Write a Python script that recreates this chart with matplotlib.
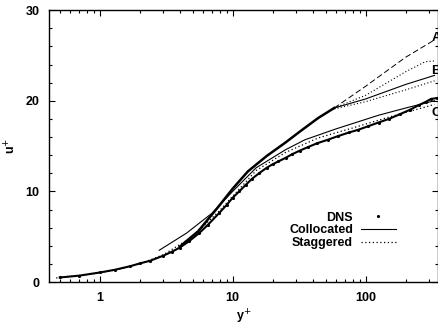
import numpy as np
import matplotlib.pyplot as plt
from matplotlib.ticker import MultipleLocator, NullFormatter

plt.rcParams['font.family'] = ['Liberation Sans', 'DejaVu Sans']

# DNS profile (lower group, drawn as dense dots)
dns_y = [0.5, 0.7, 1.0, 1.3, 1.7, 2.0, 2.4, 3.0, 3.5, 4.0, 4.7, 5.6, 6.5, 7.9, 9.0,
         10.0, 11.2, 12.5, 14.0, 15.8, 18.0, 20.0, 22.0, 25.0, 28.0, 32.0, 37.0, 43.0,
         52.0, 62.0, 75.0, 88.0, 105.0, 125.0, 150.0, 180.0, 215.0, 250.0, 285.0, 310.0, 345.0]
dns_u = [0.5, 0.7, 1.05, 1.35, 1.75, 2.05, 2.35, 2.9, 3.35, 3.8, 4.5, 5.4, 6.3, 7.6, 8.5,
         9.3, 10.0, 10.7, 11.4, 12.0, 12.6, 13.0, 13.3, 13.7, 14.1, 14.5, 14.9, 15.3,
         15.7, 16.1, 16.5, 16.8, 17.2, 17.6, 18.0, 18.5, 19.0, 19.5, 19.9, 20.2, 20.3]

# upper group: common thick part, then the fan of cases A and B
up_y = [4.0, 5.5, 7.7, 10.0, 13.0, 18.0, 25.0, 32.0, 44.0, 58.0]
up_u = [3.9, 5.6, 8.2, 10.3, 12.2, 13.9, 15.4, 16.6, 18.1, 19.2]

a_y = [58.0, 100.0, 200.0, 320.0]
a_u = [19.2, 21.6, 24.8, 26.6]
b_stag_hi_y = [58.0, 100.0, 200.0, 280.0, 330.0]
b_stag_hi_u = [19.2, 20.6, 23.2, 24.3, 24.4]
b_col_y = [58.0, 100.0, 200.0, 330.0]
b_col_u = [19.2, 20.2, 21.8, 22.8]
b_stag_lo_y = [58.0, 100.0, 200.0, 330.0]
b_stag_lo_u = [19.1, 19.9, 21.2, 22.2]

# lower group, case C
c_col_y = [2.8, 4.5, 7.0, 10.0, 15.0, 25.0, 35.0, 60.0, 125.0, 200.0, 330.0]
c_col_u = [3.5, 5.4, 7.6, 10.0, 12.6, 14.6, 15.7, 16.9, 18.4, 19.2, 20.0]
c_stag_y = [0.47, 0.7, 1.0, 1.5, 2.0, 3.0, 5.0, 8.0, 15.0, 25.0, 44.0, 80.0, 150.0, 250.0, 330.0]
c_stag_u = [0.45, 0.72, 1.0, 1.5, 2.0, 3.0, 5.0, 7.9, 12.3, 14.3, 15.9, 17.0, 18.2, 19.1, 19.6]

case_labels = ['A', 'B', 'C']
case_label_u = [26.9, 23.3, 18.6]

fig = plt.figure(figsize=(4.39, 3.27), dpi=100)
ax = fig.add_axes([0.1116, 0.1376, 0.886, 0.8314])

ax.plot(dns_y, dns_u, color='k', lw=1.5)
ax.plot(dns_y, dns_u, ls='none', marker='.', ms=2.5, color='k', label='DNS')
ax.plot(up_y, up_u, color='k', lw=1.8)
ax.plot(a_y, a_u, color='k', lw=0.7, ls=(0, (6, 3)))
ax.plot(b_stag_hi_y, b_stag_hi_u, color='k', lw=0.8, ls=(0, (1, 2)))
ax.plot(b_col_y, b_col_u, color='k', lw=0.8)
ax.plot(b_stag_lo_y, b_stag_lo_u, color='k', lw=0.8, ls=(0, (1, 2)))
ax.plot(c_col_y, c_col_u, color='k', lw=0.8, label='Collocated')
ax.plot(c_stag_y, c_stag_u, color='k', lw=0.9, ls=(0, (1, 2)), label='Staggered')

# case letters sit at the right edge, half cut off as in the original
for lab, u in zip(case_labels, case_label_u):
    ax.text(312, u, lab, ha='left', va='center', fontsize=9.5, fontweight='bold', clip_on=False)

ax.set_xscale('log')
ax.set_xlim(0.415, 350)
ax.set_ylim(0, 30)
ax.set_xticks([1, 10, 100])
ax.set_xticklabels(['1', '10', '100'])
ax.xaxis.set_minor_formatter(NullFormatter())
ax.yaxis.set_major_locator(MultipleLocator(10))
ax.yaxis.set_minor_locator(MultipleLocator(2))
ax.tick_params(which='both', direction='in', top=True, right=True, labelsize=9, width=0.8)
ax.tick_params(which='major', length=4, pad=7)
ax.tick_params(which='minor', length=2)
for t in ax.get_xticklabels() + ax.get_yticklabels():
    t.set_fontweight('bold')
for s in ax.spines.values():
    s.set_linewidth(1.0)

ax.set_xlabel('y$^{+}$', fontsize=9, fontweight='bold', labelpad=3)
ax.set_ylabel('u$^{+}$', fontsize=9, fontweight='bold', labelpad=5)

ax.legend(loc='lower right', bbox_to_anchor=(0.92, 0.08), frameon=False, markerfirst=False,
          handlelength=2.8, handletextpad=0.6, labelspacing=0.05,
          prop={'weight': 'bold', 'size': 9})

fig.savefig('out.png', dpi=100)
